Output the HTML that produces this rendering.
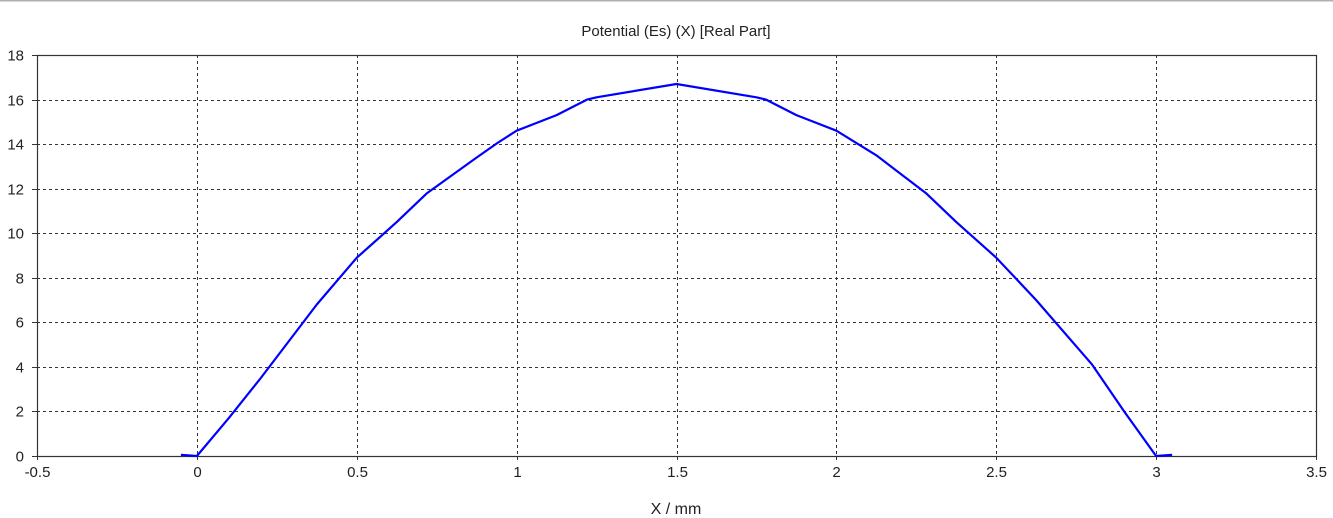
<!DOCTYPE html>
<html><head><meta charset="utf-8"><style>
html,body{margin:0;padding:0;background:#fff;}
svg{display:block;font-family:"Liberation Sans",sans-serif;}
</style></head><body>
<svg id="chart" width="1333" height="518">
<line x1="0" y1="0.5" x2="1333" y2="0.5" stroke="#b0b0b0" stroke-width="2"/>
<text x="676" y="36" text-anchor="middle" font-size="15" fill="#222">Potential (Es) (X) [Real Part]</text>
<g id="grid"></g>
<g id="axes"></g>
<g id="series"></g>
<text x="676" y="514" text-anchor="middle" font-size="16" fill="#222">X / mm</text>
</svg>
<script>
const xTicks=[-0.5,0,0.5,1,1.5,2,2.5,3,3.5];
const yTicks=[0,2,4,6,8,10,12,14,16,18];
const xVals=[-0.05,0,0.1,0.2,0.375,0.5,0.625,0.72,0.875,0.94,1.0,1.125,1.22,1.25,1.5,1.75,1.78,1.875,2.0,2.125,2.28,2.375,2.5,2.625,2.8,2.9,3.0,3.05];
const yVals=[0.05,0,1.7,3.5,6.8,8.9,10.5,11.8,13.4,14.05,14.6,15.3,16.0,16.1,16.7,16.1,16.0,15.3,14.6,13.5,11.8,10.5,8.9,7.0,4.1,2.0,0,0.05];
const L=37,R=1316,T=55,B=456,xmin=-0.5,xmax=3.5,ymin=0,ymax=18;
const sx=v=>L+(v-xmin)/(xmax-xmin)*(R-L);
const sy=v=>B-(v-ymin)/(ymax-ymin)*(B-T);
const NS="http://www.w3.org/2000/svg";
function mk(tag,parent,attrs){const e=document.createElementNS(NS,tag);for(const k in attrs)e.setAttribute(k,attrs[k]);parent.appendChild(e);return e;}
const grid=document.getElementById('grid'),axes=document.getElementById('axes'),series=document.getElementById('series');
xTicks.forEach(t=>{const x=Math.round(sx(t))+0.5;
 if(t>xmin&&t<xmax){const g=mk('line',grid,{x1:x,y1:T,x2:x,y2:B,stroke:'#333','stroke-dasharray':'3,3','stroke-width':1});
 
 }
 const tk=mk('line',axes,{x1:x,y1:B,x2:x,y2:B+4,stroke:'#333'});
 
 
 const lb=mk('text',axes,{x:x,y:B+21,'text-anchor':'middle','font-size':15,fill:'#222'});lb.textContent=String(t);
 
 
});
yTicks.forEach(t=>{const y=Math.round(sy(t))+0.5;
 if(t>ymin&&t<ymax){const g=mk('line',grid,{x1:L,y1:y,x2:R,y2:y,stroke:'#333','stroke-dasharray':'3,3','stroke-width':1});
 
 }
 const tk=mk('line',axes,{x1:L-5,y1:y,x2:L,y2:y,stroke:'#333'});
 
 
 const lb=mk('text',axes,{x:24,y:y+5,'text-anchor':'end','font-size':15,fill:'#222'});lb.textContent=String(t);
 
 
});
const frame=mk('rect',axes,{x:L+0.5,y:T+0.5,width:R-L,height:B-T,fill:'none',stroke:'#333','stroke-width':1.2});


const pts=xVals.map((x,i)=>sx(x).toFixed(1)+','+sy(yVals[i]).toFixed(1)).join(' ');
const line=mk('polyline',series,{points:pts,fill:'none',stroke:'#0000ff','stroke-width':2.2,'stroke-linejoin':'round'});


</script>
</body></html>
